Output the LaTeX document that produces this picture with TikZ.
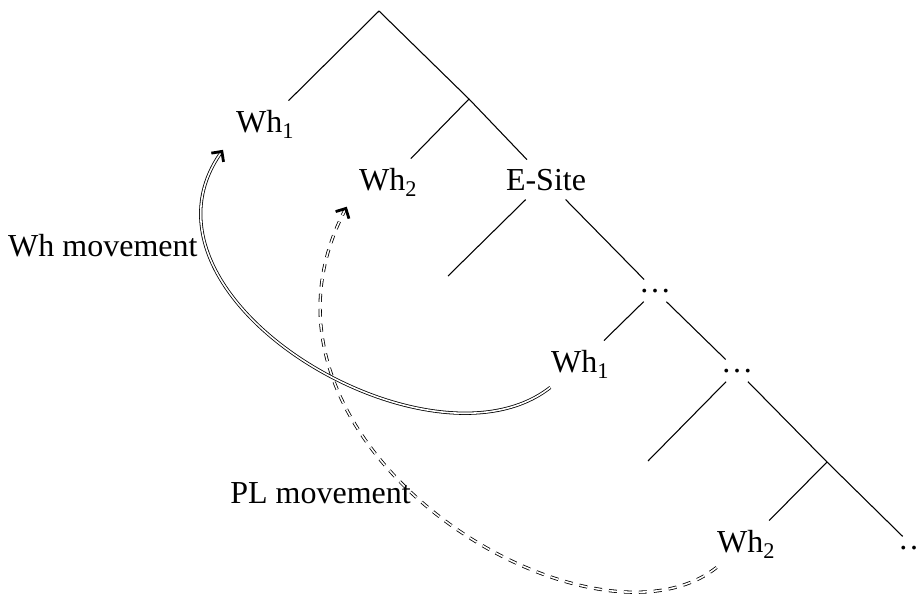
\documentclass[tikz,border=0pt]{standalone}
\usepackage{fontspec}
\setmainfont{Liberation Serif}
\usetikzlibrary{decorations.markings}
\begin{document}
\begin{tikzpicture}[x=1pt,y=-1pt,
  font=\fontsize{32}{38}\selectfont,
  treenode/.style={inner sep=9pt, anchor=base},
  branch/.style={line width=1.07pt},
  movelabel/.style={inner sep=0pt},
  movetip/.style={postaction={decorate, decoration={markings,
      mark=at position 1 with {\draw[solid, double=black, double distance=0.6pt,
        line width=1.1pt, miter limit=4]
        (-7.5pt,7.5pt) -- (0pt,0pt) -- (-7.5pt,-7.5pt);}}}},
  whmove/.style={double, line width=0.8pt, double distance=1.6pt, movetip},
  plmove/.style={whmove, dash pattern=on 8pt off 7pt}]
\useasboundingbox (0,0) rectangle (922,598);
% tree nodes
\coordinate (root) at (379,11);
\node[treenode] (wha) at (265,132) {Wh\textsubscript{1}};
\coordinate (x) at (469,99);
\node[treenode] (whb) at (388,190) {Wh\textsubscript{2}};
\node[treenode] (esite) at (546,190) {E-Site};
\coordinate (e1) at (448,276);
\node[treenode] (d1) at (655,292) {\ldots};
\node[treenode] (whc) at (580,372) {Wh\textsubscript{1}};
\node[treenode] (d2) at (737,372) {\ldots};
\coordinate (e2) at (648,461);
\coordinate (y) at (827,462);
\node[treenode] (whd) at (746,552) {Wh\textsubscript{2}};
\node[treenode] (d3) at (914,549) {\ldots};
% branches
\draw[branch] (root) -- (wha);
\draw[branch] (root) -- (x);
\draw[branch] (x) -- (whb);
\draw[branch] (x) -- (esite);
\draw[branch] (esite) -- (e1);
\draw[branch] (esite) -- (d1);
\draw[branch] (d1) -- (whc);
\draw[branch] (d1) -- (d2);
\draw[branch] (d2) -- (e2);
\draw[branch] (d2) -- (y);
\draw[branch] (y) -- (whd);
\draw[branch] (y) -- (d3);
% movements
\draw[plmove] (whd) .. controls (590,668) and (220,445) .. ([shift={(-4,3)}]whb.south west);
\draw[whmove] (whc) .. controls (430,482) and (117,297) .. ([shift={(-5,4)}]wha.south west);
\node[movelabel, anchor=base west] (lwh) at (8,256) {Wh movement};
\node[movelabel, anchor=base east] (lpl) at (411,503) {PL movement};
\end{tikzpicture}
\end{document}
